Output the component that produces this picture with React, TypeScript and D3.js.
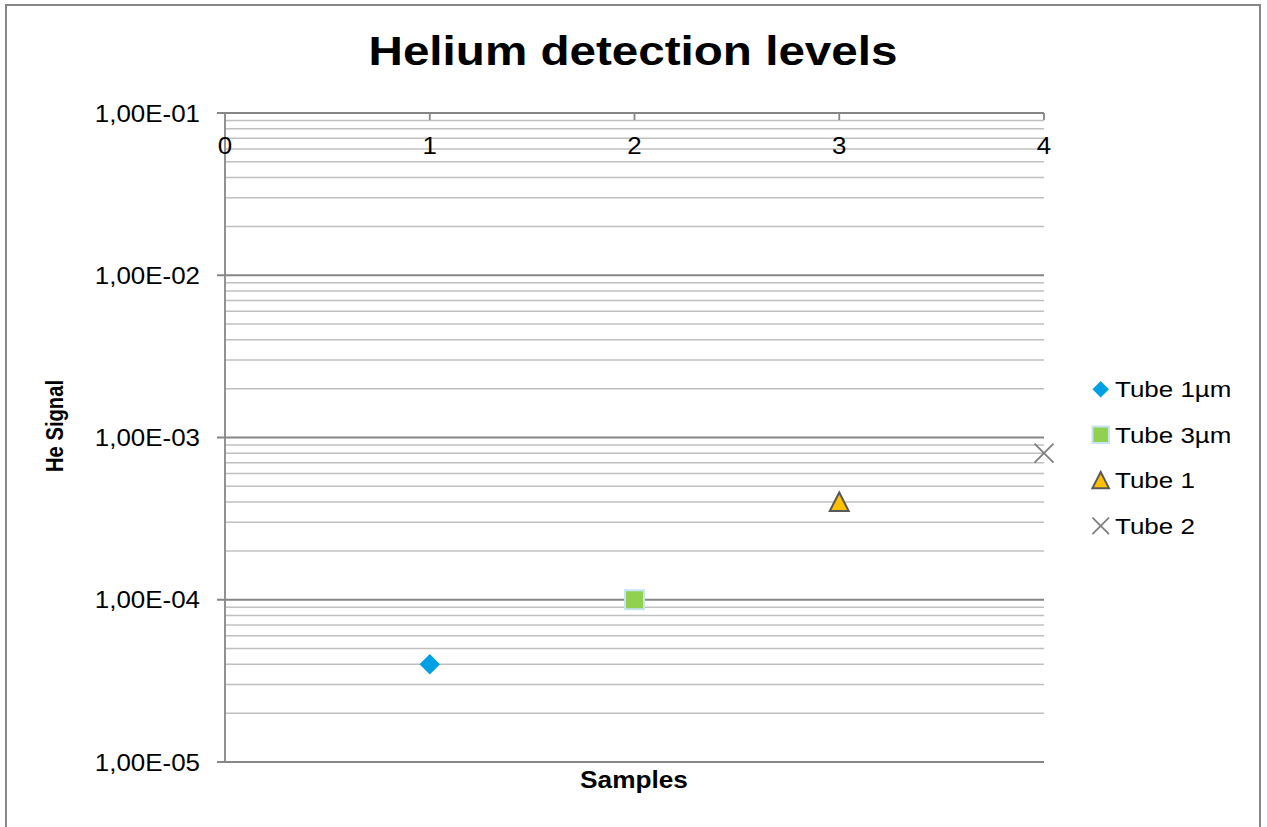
import * as React from 'react';
import * as d3 from 'd3';

// chart values
const seriesNames = ['Tube 1µm', 'Tube 3µm', 'Tube 1', 'Tube 2'];
const sampleX = [1, 2, 3, 4];
const heSignal = [4e-5, 1e-4, 4e-4, 8e-4];
const xTicks = [0, 1, 2, 3, 4];
const yTicks = [1e-5, 1e-4, 1e-3, 1e-2, 1e-1];
const yTickLabels = ['1,00E-05', '1,00E-04', '1,00E-03', '1,00E-02', '1,00E-01'];

const W = 1267;
const H = 827;
const font = '"Liberation Sans", Arial, sans-serif';
const axisColor = '#868686';
const minorColor = '#c0c0c0';

const markerPath = (kind: number, s: number) => {
    const h = s / 2;
    if (kind === 0) return `M0,${-h}L${h},0L0,${h}L${-h},0Z`;
    if (kind === 1) return `M${-h},${-h}H${h}V${h}H${-h}Z`;
    if (kind === 2) return `M0,${-h}L${h},${h * 0.95}L${-h},${h * 0.95}Z`;
    return `M${-h},${-h}L${h},${h}M${h},${-h}L${-h},${h}`;
};

const markerStyle = [
    { fill: '#00a1e4', stroke: 'none', sw: 0 },
    { fill: '#92d050', stroke: '#c6e4f4', sw: 2 },
    { fill: '#ffc000', stroke: '#595959', sw: 2 },
    { fill: 'none', stroke: '#7f7f7f', sw: 1.8 },
];

const Marker: React.FunctionComponent<{ kind: number; x: number; y: number; size: number }> = (props) => {
    const st = markerStyle[props.kind];
    return (
        <path
            d={markerPath(props.kind, props.size)}
            transform={`translate(${props.x},${props.y})`}
            fill={st.fill}
            stroke={st.stroke}
            strokeWidth={st.sw}
        />
    );
};

const App: React.FunctionComponent = () => {
    const x = d3.scaleLinear().domain([0, 4]).range([225, 1044]);
    const y = d3.scaleLog().domain([1e-5, 1e-1]).range([762, 113]);

    // minor gridlines: 2..9 in every decade
    const minor: number[] = [];
    for (let e = -5; e < -1; e++) {
        for (let m = 2; m <= 9; m++) minor.push(m * Math.pow(10, e));
    }
    const [x0, x1] = x.range();

    return (
        <svg width={W} height={H} style={{ position: 'absolute', left: 0, top: 0, background: '#fff' }}>
            <rect x={0} y={0} width={W} height={H} fill="#fff" />
            <rect x={6} y={5} width={1254} height={900} fill="none" stroke={axisColor} strokeWidth={2} />

            <g transform="translate(633,65) scale(1.19,1)">
                <text textAnchor="middle" fontFamily={font} fontWeight="bold" fontSize={40}>Helium detection levels</text>
            </g>

            {minor.map((v, i) => (
                <line key={'mn' + i} x1={x0} x2={x1} y1={y(v)} y2={y(v)} stroke={minorColor} strokeWidth={1.5} />
            ))}
            {yTicks.map((v, i) => (
                <line key={'mj' + i} x1={x0 - 8} x2={x1} y1={y(v)} y2={y(v)} stroke={axisColor} strokeWidth={1.8} />
            ))}
            <line x1={x0} x2={x0} y1={y(1e-1)} y2={y(1e-5)} stroke={axisColor} strokeWidth={1.8} />
            {xTicks.slice(1).map((v) => (
                <line key={'xt' + v} x1={x(v)} x2={x(v)} y1={y(1e-1)} y2={y(1e-1) + 7} stroke={axisColor} strokeWidth={1.8} />
            ))}

            {yTicks.map((v, i) => (
                <g key={'yl' + i} transform={`translate(200,${y(v) + 8.6}) scale(1.08,1)`}>
                    <text textAnchor="end" fontFamily={font} fontSize={24}>{yTickLabels[i]}</text>
                </g>
            ))}
            {xTicks.map((v) => (
                <g key={'xl' + v} transform={`translate(${x(v)},154) scale(1.08,1)`}>
                    <text textAnchor="middle" fontFamily={font} fontSize={24}>{v}</text>
                </g>
            ))}

            <g transform="translate(634,788) scale(1.14,1)">
                <text textAnchor="middle" fontFamily={font} fontWeight="bold" fontSize={23}>Samples</text>
            </g>
            <g transform="translate(63,426) scale(1.22,1) rotate(-90)">
                <text textAnchor="middle" fontFamily={font} fontWeight="bold" fontSize={20.2}>He Signal</text>
            </g>

            {heSignal.map((v, i) => (
                <Marker key={'pt' + i} kind={i} x={x(sampleX[i])} y={y(v)} size={i === 0 ? 20.5 : 19} />
            ))}

            {seriesNames.map((name, i) => {
                const cy = 389.3 + i * 45.5;
                return (
                    <g key={'lg' + i}>
                        <Marker kind={i} x={1100.7} y={cy} size={16.5} />
                        <g transform={`translate(1115,${cy + 8}) scale(1.18,1)`}>
                            <text fontFamily={font} fontSize={22}>{name}</text>
                        </g>
                    </g>
                );
            })}
        </svg>
    );
};

export default App;
